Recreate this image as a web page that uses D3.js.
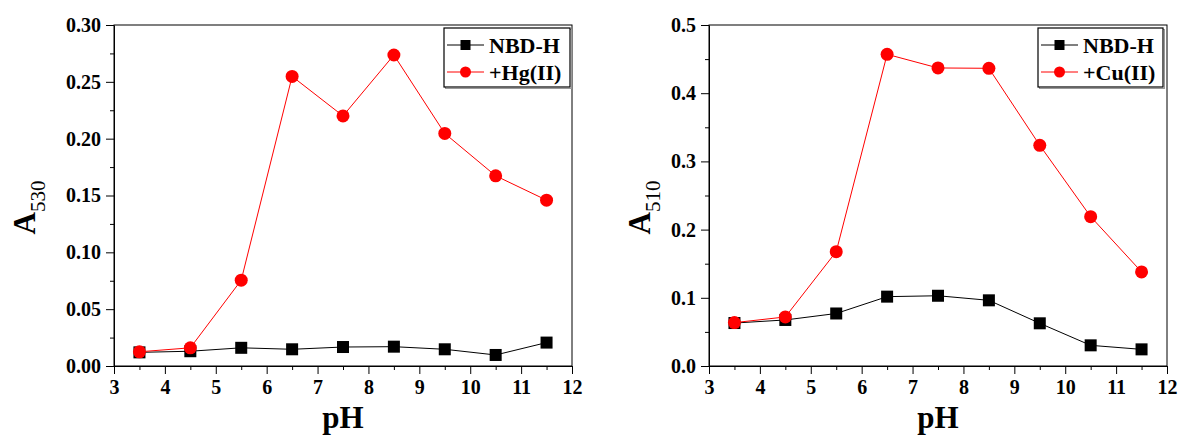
<!DOCTYPE html>
<html>
<head>
<meta charset="utf-8">
<script src="https://cdn.jsdelivr.net/npm/d3@7"></script>
<style>
  body { margin: 0; background: #fff; }
  svg { display: block; font-family: "Liberation Serif", "Times New Roman", serif; }
</style>
</head>
<body>
<div id="chart"></div>
<script>
// pH values shared by both panels
const phValues = [3.5, 4.5, 5.5, 6.5, 7.5, 8.5, 9.5, 10.5, 11.5];

// left panel: A530
const hgProbe = [0.012, 0.013, 0.016, 0.0147, 0.0167, 0.017, 0.0147, 0.0097, 0.0206];
const hgAdded = [0.0125, 0.016, 0.0755, 0.2548, 0.220, 0.2736, 0.2046, 0.1673, 0.1459];

// right panel: A510
const cuProbe = [0.063, 0.0675, 0.077, 0.1017, 0.103, 0.0963, 0.0626, 0.0303, 0.0244];
const cuAdded = [0.0636, 0.0719, 0.1677, 0.457, 0.437, 0.4365, 0.3236, 0.219, 0.138];

const xTicks = [3, 4, 5, 6, 7, 8, 9, 10, 11, 12];
const leftYTicks = [0, 0.05, 0.10, 0.15, 0.20, 0.25, 0.30];
const rightYTicks = [0, 0.1, 0.2, 0.3, 0.4, 0.5];

const W = 1180, H = 438;
const serif = '"Liberation Serif", "Times New Roman", serif';

let svg = d3.select('#chart').append('svg')
    .attr('width', W)
    .attr('height', H);

function drawPanel(opt) {
    let left = opt.left, top = 25, width = 458, height = 341;

    let g = svg.append('g')
        .attr('transform', `translate(${left}, ${top})`);

    let xScale = d3.scaleLinear().domain([3, 12]).range([0, width]);
    let yScale = d3.scaleLinear().domain(opt.yDomain).range([height, 0]);

    // minor ticks
    let xMinor = d3.range(3.5, 12, 1);
    g.append('g')
        .attr('transform', `translate(0, ${height})`)
        .call(d3.axisBottom(xScale).tickValues(xMinor).tickSize(4).tickFormat(''))
        .call(a => a.select('.domain').remove());

    let yMinor = opt.yTicks.slice(0, -1).map((v, i) => (v + opt.yTicks[i + 1]) / 2);
    g.append('g')
        .call(d3.axisLeft(yScale).tickValues(yMinor).tickSize(4).tickFormat(''))
        .call(a => a.select('.domain').remove());

    // major axes
    g.append('g')
        .attr('class', 'x-axis')
        .attr('transform', `translate(0, ${height})`)
        .call(d3.axisBottom(xScale).tickValues(xTicks).tickSize(8).tickSizeOuter(0).tickPadding(6))
        .attr('font-family', serif)
        .call(a => a.selectAll('text')
            .style('font-size', '20px')
            .style('font-weight', 'bold')
            .style('font-family', serif)
            .attr('fill', '#000'));

    g.append('g')
        .attr('class', 'y-axis')
        .call(d3.axisLeft(yScale).tickValues(opt.yTicks).tickSize(8).tickSizeOuter(0).tickPadding(5)
            .tickFormat(d3.format(opt.yFormat)))
        .attr('font-family', serif)
        .call(a => a.selectAll('text')
            .style('font-size', '20px')
            .style('font-weight', 'bold')
            .style('font-family', serif)
            .attr('fill', '#000'));

    // frame
    g.append('rect')
        .attr('width', width)
        .attr('height', height)
        .attr('fill', 'none')
        .attr('stroke', '#000')
        .attr('stroke-width', 1);

    // axis titles
    g.append('text')
        .attr('x', width / 2)
        .attr('y', height + 62)
        .attr('text-anchor', 'middle')
        .style('font-size', '31px')
        .style('font-weight', 'bold')
        .text('pH');

    let yt = g.append('text')
        .attr('transform', `translate(${opt.yTitleX}, ${height / 2 + 12}) rotate(-90)`)
        .attr('text-anchor', 'middle');
    yt.append('tspan')
        .style('font-size', '31px')
        .style('font-weight', 'bold')
        .text('A');
    yt.append('tspan')
        .attr('dy', 10)
        .style('font-size', '21px')
        .text(opt.sub);

    let line = d3.line()
        .x(d => xScale(d[0]))
        .y(d => yScale(d[1]));

    let probe = phValues.map((p, i) => [p, opt.probe[i]]);
    let added = phValues.map((p, i) => [p, opt.added[i]]);

    g.append('path')
        .datum(probe)
        .attr('d', line)
        .attr('fill', 'none')
        .attr('stroke', '#000')
        .attr('stroke-width', 1);

    g.selectAll('.sq')
        .data(probe)
        .join('rect')
        .attr('class', 'sq')
        .attr('x', d => xScale(d[0]) - 6)
        .attr('y', d => yScale(d[1]) - 6)
        .attr('width', 12)
        .attr('height', 12)
        .attr('fill', '#000');

    g.append('path')
        .datum(added)
        .attr('d', line)
        .attr('fill', 'none')
        .attr('stroke', '#ff0000')
        .attr('stroke-width', 1);

    g.selectAll('.dot')
        .data(added)
        .join('circle')
        .attr('class', 'dot')
        .attr('cx', d => xScale(d[0]))
        .attr('cy', d => yScale(d[1]))
        .attr('r', 6.5)
        .attr('fill', '#ff0000');

    // legend
    let lg = svg.append('g')
        .attr('transform', `translate(${opt.legendX}, 28)`);
    lg.append('rect')
        .attr('x', 1.5).attr('y', 1.5)
        .attr('width', opt.legendW).attr('height', 59)
        .attr('fill', 'none')
        .attr('stroke', '#999')
        .attr('stroke-width', 1);
    lg.append('rect')
        .attr('width', opt.legendW).attr('height', 59)
        .attr('fill', '#fff')
        .attr('stroke', '#000')
        .attr('stroke-width', 1.2);

    let items = [
        {name: 'NBD-H', color: '#000', shape: 'sq'},
        {name: opt.ionName, color: '#ff0000', shape: 'dot'}
    ];
    items.forEach((it, i) => {
        let cy = 17 + i * 27;
        lg.append('line')
            .attr('x1', 3).attr('x2', 40)
            .attr('y1', cy).attr('y2', cy)
            .attr('stroke', it.color)
            .attr('stroke-width', 1);
        if (it.shape === 'sq') {
            lg.append('rect')
                .attr('x', 16.5).attr('y', cy - 5)
                .attr('width', 10).attr('height', 10)
                .attr('fill', it.color);
        } else {
            lg.append('circle')
                .attr('cx', 21.5).attr('cy', cy)
                .attr('r', 5.5)
                .attr('fill', it.color);
        }
        lg.append('text')
            .attr('x', 45)
            .attr('y', cy + 7.5)
            .style('font-size', '22px')
            .style('font-weight', 'bold')
            .text(it.name);
    });
}

drawPanel({
    left: 114,
    yDomain: [0, 0.30],
    yTicks: leftYTicks,
    yFormat: '.2f',
    yTitleX: -79,
    sub: '530',
    probe: hgProbe,
    added: hgAdded,
    ionName: '+Hg(II)',
    legendX: 444,
    legendW: 126
});

drawPanel({
    left: 709,
    yDomain: [0, 0.5],
    yTicks: rightYTicks,
    yFormat: '.1f',
    yTitleX: -59,
    sub: '510',
    probe: cuProbe,
    added: cuAdded,
    ionName: '+Cu(II)',
    legendX: 1038,
    legendW: 125
});
</script>
</body>
</html>
